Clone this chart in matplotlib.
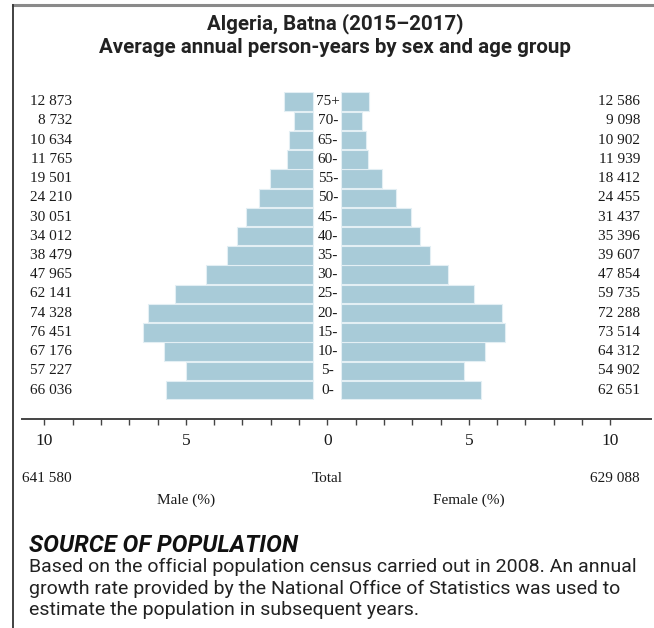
import matplotlib
matplotlib.use("Agg")
import matplotlib.pyplot as plt
from matplotlib.lines import Line2D
import numpy as np

W, H = 654, 628

ages = ["0-", "5-", "10-", "15-", "20-", "25-", "30-", "35-", "40-", "45-",
        "50-", "55-", "60-", "65-", "70-", "75+"]
male = [66036, 57227, 67176, 76451, 74328, 62141, 47965, 38479, 34012, 30051,
        24210, 19501, 11765, 10634, 8732, 12873]
female = [62651, 54902, 64312, 73514, 72288, 59735, 47854, 39607, 35396, 31437,
          24455, 18412, 11939, 10902, 9098, 12586]
male_total = "641 580"
female_total = "629 088"
ticks = np.arange(-10, 11)
tick_labels = {-10: "10", -5: "5", 0: "0", 5: "5", 10: "10"}

title = "Algeria, Batna (2015\u20132017)\nAverage annual person-years by sex and age group"
source_head = "SOURCE OF POPULATION"
source_lines = [
    "Based on the official population census carried out in 2008. An annual",
    "growth rate provided by the National Office of Statistics was used to",
    "estimate the population in subsequent years.",
]

BAR = "#a8cbd8"
SERIF = ["Liberation Serif", "DejaVu Serif"]
SANS = ["Roboto", "DejaVu Sans"]


def fx(px):
    return px / W


def fy(py):
    return 1 - py / H


def fmt(n):
    # space as thousands separator
    return f"{n:,}".replace(",", " ")


total = sum(male) + sum(female)
male_pct = np.array(male) / total * 100
female_pct = np.array(female) / total * 100
gap = 0.5  # half of the central label gutter, in axis units

fig = plt.figure(figsize=(W / 100, H / 100), dpi=100)

# axes: zero at x=327.3px, 28.3 px per percent
x0, scale = 327.3, 28.3
xmin, xmax = -10.8, 11.45
row0, row_step = 390.0, 19.22
n = len(ages)
top_px = row0 - (n - 1) * row_step - row_step / 2
bot_px = row0 + row_step / 2
ax = fig.add_axes([fx(x0 + xmin * scale), fy(bot_px),
                   (xmax - xmin) * scale / W, (bot_px - top_px) / H])
ax.set_xlim(xmin, xmax)
ax.set_ylim(-0.5, n - 0.5)

y = np.arange(n)
ax.barh(y, -male_pct, left=-gap, height=0.96, color=BAR,
        edgecolor="#e3eff4", linewidth=0.8)
ax.barh(y, female_pct, left=gap, height=0.96, color=BAR,
        edgecolor="#e3eff4", linewidth=0.8)

for i in range(n):
    ax.text(0.02, y[i], ages[i], ha="center", va="center", fontsize=11,
            family=SERIF, color="#1a1a1a")
    ax.text((72 - x0) / scale, y[i], fmt(male[i]), ha="right", va="center",
            fontsize=11, family=SERIF, color="#1a1a1a", clip_on=False)
    ax.text((640 - x0) / scale, y[i], fmt(female[i]), ha="right", va="center",
            fontsize=11, family=SERIF, color="#1a1a1a", clip_on=False)

for s in ["top", "left", "right"]:
    ax.spines[s].set_visible(False)
ax.spines["bottom"].set_position(("outward", (419 - bot_px) * 0.72))
ax.spines["bottom"].set_color("#444444")
ax.spines["bottom"].set_linewidth(1.4)
ax.set_yticks([])
ax.set_xticks(ticks)
ax.set_xticklabels([tick_labels.get(t, "") for t in ticks], family=SERIF,
                   fontsize=12.5, color="#1a1a1a")
ax.tick_params(axis="x", length=4, width=1, color="#444444", pad=6)

# title
fig.text(fx(335), fy(35), title, ha="center", va="center", fontsize=14.8,
         fontweight="bold", family=SANS, color="#222222", linespacing=1.25)

# totals and axis captions
fig.text(fx(22), fy(478), male_total, ha="left", va="center", fontsize=11,
         family=SERIF, color="#1a1a1a")
fig.text(fx(x0), fy(478), "Total", ha="center", va="center", fontsize=11,
         family=SERIF, color="#1a1a1a")
fig.text(fx(640), fy(478), female_total, ha="right", va="center", fontsize=11,
         family=SERIF, color="#1a1a1a")
fig.text(fx(x0 - 5 * scale), fy(500), "Male (%)", ha="center", va="center",
         fontsize=11, family=SERIF, color="#1a1a1a")
fig.text(fx(x0 + 5 * scale), fy(500), "Female (%)", ha="center", va="center",
         fontsize=11, family=SERIF, color="#1a1a1a")

# source note
fig.text(fx(29), fy(546), source_head, ha="left", va="center", fontsize=17,
         fontweight="bold", fontstyle="italic", family=SANS, color="#111111")
for k, line in enumerate(source_lines):
    fig.text(fx(29), fy(567 + k * 21.5), line, ha="left", va="center",
             fontsize=14, family=SANS, color="#222222")

# frame
fig.add_artist(Line2D([fx(13), fx(654)], [fy(5), fy(5)], color="#8a8a8a",
                      linewidth=2.2))
fig.add_artist(Line2D([fx(13), fx(13)], [fy(5), fy(628)], color="#333333",
                      linewidth=1.3))

fig.savefig("out.png", dpi=100)
